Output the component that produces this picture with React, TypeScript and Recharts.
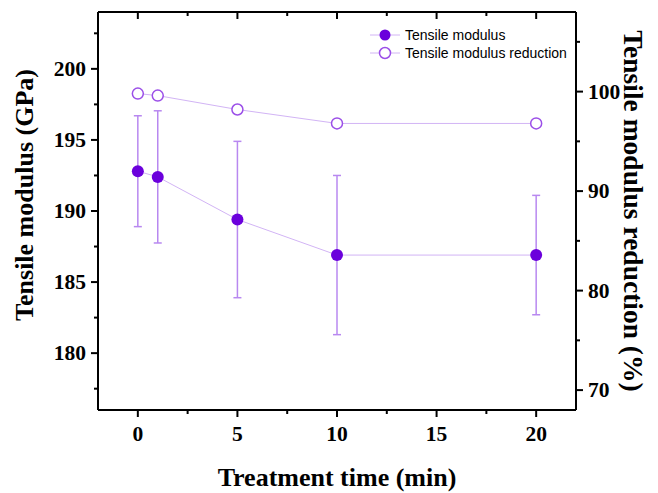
import React from 'react';
import { ComposedChart, Line, XAxis, YAxis, ErrorBar } from 'recharts';

const times = [0, 1, 5, 10, 20];
const modulus = [192.8, 192.4, 189.4, 186.9, 186.9];
const modulusErr = [3.9, 4.65, 5.5, 5.6, 4.2];
const reduction = [99.8, 99.6, 98.2, 96.8, 96.8];

const xTicks = [-2.5, 0, 2.5, 5, 7.5, 10, 12.5, 15, 17.5, 20];
const leftTicks = [177.5, 180, 182.5, 185, 187.5, 190, 192.5, 195, 197.5, 200, 202.5];
const rightTicks = [70, 75, 80, 85, 90, 95, 100, 105];

const data = times.map((t, i) => ({
    time: t,
    modulus: modulus[i],
    err: modulusErr[i],
    reduction: reduction[i],
}));

const serif = '"Liberation Serif", "Times New Roman", serif';
const sans = '"Liberation Sans", Arial, sans-serif';
const DOT = '#6B00DC';
const OPEN = '#9B4FE8';
const LINE = '#D2B4F5';
const ERR = '#B888F0';

const isMajor = (v: number, step: number) => Math.abs(v / step - Math.round(v / step)) < 1e-6;

// tick mark + label drawn by hand so minor ticks can be shorter
const LeftTick = (p: any) => {
    const major = isMajor(p.payload.value, 5);
    return (
        <g>
            <line x1={p.x} x2={p.x - (major ? 7 : 4)} y1={p.y} y2={p.y} stroke="#000" strokeWidth={2} />
            {major && (
                <text x={p.x - 12} y={p.y} dy={7} textAnchor="end" fontFamily={serif} fontWeight="bold" fontSize={21.5} fill="#000">
                    {p.payload.value}
                </text>
            )}
        </g>
    );
};

const RightTick = (p: any) => {
    const major = isMajor(p.payload.value, 10);
    return (
        <g>
            <line x1={p.x} x2={p.x + (major ? 7 : 4)} y1={p.y} y2={p.y} stroke="#000" strokeWidth={2} />
            {major && (
                <text x={p.x + 12} y={p.y} dy={7} textAnchor="start" fontFamily={serif} fontWeight="bold" fontSize={21.5} fill="#000">
                    {p.payload.value}
                </text>
            )}
        </g>
    );
};

const BottomTick = (p: any) => {
    const major = isMajor(p.payload.value, 5);
    if (p.payload.value < -2) return null;
    return (
        <g>
            <line x1={p.x} x2={p.x} y1={p.y} y2={p.y + (major ? 7 : 4)} stroke="#000" strokeWidth={2} />
            {major && (
                <text x={p.x} y={p.y + 31} textAnchor="middle" fontFamily={serif} fontWeight="bold" fontSize={21.5} fill="#000">
                    {p.payload.value}
                </text>
            )}
        </g>
    );
};

const TopTick = (p: any) => {
    const major = isMajor(p.payload.value, 5);
    if (p.payload.value < -2) return null;
    return <line x1={p.x} x2={p.x} y1={p.y} y2={p.y + (major ? 7 : 4)} stroke="#000" strokeWidth={2} />;
};

const titleStyle = { fontFamily: serif, fontWeight: 'bold', fontSize: 26, fill: '#000' } as const;

const LeftTitle = (p: any) => {
    const cx = p.viewBox.x + 24;
    const cy = p.viewBox.y + p.viewBox.height / 2 - 16;
    return (
        <text x={cx} y={cy} dy={9} textAnchor="middle" transform={`rotate(-90 ${cx} ${cy})`} {...titleStyle}>
            Tensile modulus (GPa)
        </text>
    );
};

const RightTitle = (p: any) => {
    const cx = p.viewBox.x + 57;
    const cy = p.viewBox.y + p.viewBox.height / 2;
    return (
        <text x={cx} y={cy} dy={9} textAnchor="middle" transform={`rotate(90 ${cx} ${cy})`} {...titleStyle} fontSize={27.5}>
            Tensile modulus reduction (%)
        </text>
    );
};

const BottomTitle = (p: any) => (
    <text x={p.viewBox.x + p.viewBox.width / 2} y={486} textAnchor="middle" {...titleStyle}>
        Treatment time (min)
    </text>
);

const LegendBox = () => (
    <svg width={220} height={40} style={{ position: 'absolute', left: 370, top: 26 }}>
        <line x1={0} x2={30} y1={9} y2={9} stroke={LINE} strokeWidth={1} />
        <circle cx={15} cy={9} r={5.5} fill={DOT} />
        <text x={35} y={14} fontFamily={sans} fontSize={14} fill="#000">Tensile modulus</text>
        <line x1={0} x2={30} y1={27} y2={27} stroke={LINE} strokeWidth={1} />
        <circle cx={15} cy={27} r={5.5} fill="#fff" stroke={OPEN} strokeWidth={1.5} />
        <text x={35} y={32} fontFamily={sans} fontSize={14} fill="#000">Tensile modulus reduction</text>
    </svg>
);

export default function App() {
    return (
        <div style={{ position: 'absolute', left: 0, top: 0, width: 658, height: 493, background: '#fff' }}>
            <ComposedChart width={658} height={493} data={data} margin={{ top: 0, right: 0, bottom: 0, left: 0 }}>
                <XAxis xAxisId="b" dataKey="time" type="number" domain={[-2, 22]} ticks={xTicks} allowDataOverflow
                    orientation="bottom" height={83} tickSize={0} tickMargin={0} tickLine={false}
                    axisLine={{ stroke: '#000', strokeWidth: 2 }} tick={<BottomTick />}
                    label={<BottomTitle />} />
                <XAxis xAxisId="t" dataKey="time" type="number" domain={[-2, 22]} ticks={xTicks} allowDataOverflow
                    orientation="top" height={12} tickSize={0} tickMargin={0} tickLine={false}
                    axisLine={{ stroke: '#000', strokeWidth: 2 }} tick={<TopTick />} />
                <YAxis yAxisId="l" type="number" domain={[176, 204]} ticks={leftTicks} allowDataOverflow
                    orientation="left" width={98} tickSize={0} tickMargin={0} tickLine={false}
                    axisLine={{ stroke: '#000', strokeWidth: 2 }} tick={<LeftTick />}
                    label={<LeftTitle />} />
                <YAxis yAxisId="r" type="number" domain={[68, 108]} ticks={rightTicks} allowDataOverflow
                    orientation="right" width={82} tickSize={0} tickMargin={0} tickLine={false}
                    axisLine={{ stroke: '#000', strokeWidth: 2 }} tick={<RightTick />}
                    label={<RightTitle />} />
                <Line xAxisId="b" yAxisId="l" dataKey="modulus" stroke={LINE} strokeWidth={1} isAnimationActive={false}
                    dot={{ r: 6, fill: DOT, stroke: DOT, strokeWidth: 0 }} activeDot={false}>
                    <ErrorBar dataKey="err" direction="y" width={4} stroke={ERR} strokeWidth={1.5} isAnimationActive={false} />
                </Line>
                <Line xAxisId="b" yAxisId="r" dataKey="reduction" stroke={LINE} strokeWidth={1} isAnimationActive={false}
                    dot={{ r: 5.5, fill: '#fff', stroke: OPEN, strokeWidth: 1.5 }} activeDot={false} />
            </ComposedChart>
            <LegendBox />
        </div>
    );
}
